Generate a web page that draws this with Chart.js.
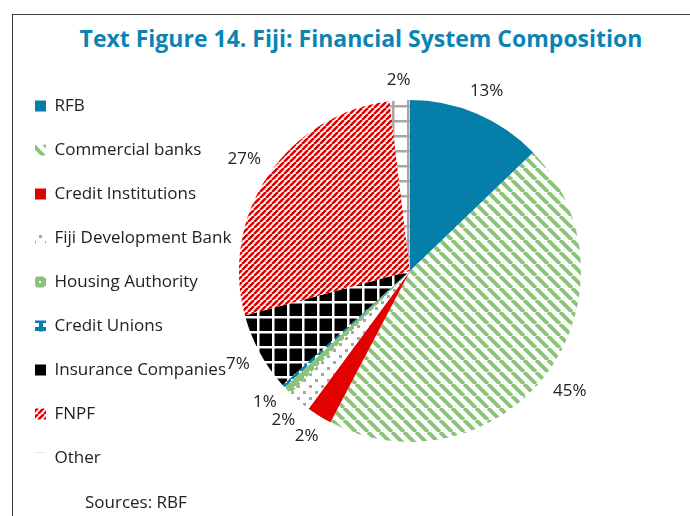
<!DOCTYPE html>
<html><head><meta charset="utf-8">
<script src="https://cdn.jsdelivr.net/npm/chart.js@4"></script>
<style>
html,body{margin:0;padding:0;width:690px;height:516px;overflow:hidden;background:#fff;}
#frame{position:absolute;left:12px;top:14px;width:800px;height:600px;border-left:1.5px solid #3c3c3c;border-top:1.5px solid #3c3c3c;}
#title{position:absolute;left:0;width:722px;top:23px;text-align:center;font:700 23px "Open Sans";color:#0a84b5;white-space:nowrap;line-height:30px;}
#src{position:absolute;left:85px;top:490px;font:17px "Open Sans";color:#222;line-height:24px;}
#c{position:absolute;left:8px;top:0;}
</style></head><body>
<div id="frame"></div>
<div id="title">Text Figure 14. Fiji: Financial System Composition</div>
<canvas id="c" width="682" height="516"></canvas>
<div id="src">Sources: RBF</div>
<script>
// ---- data (% of financial system assets) ----
const categories = ['RFB','Commercial banks','Credit Institutions','Fiji Development Bank','Housing Authority','Credit Unions','Insurance Companies','FNPF','Other'];
const shares = [12.8, 44.9, 2.4, 2.2, 0.8, 0.3, 7.4, 27.3, 1.9];

// ---- layout constants ----
const CANVAS_W = 682;
const PIE_CX = 402;          // desired pie centre x inside canvas
const PIE_R = 171;
const LEG_PAD = 27, BOX = 11, LEG_FONT = 17;
const LABEL_GAP = 10, LABEL_FONT = 17;

const cv = document.getElementById('c');
const ctx = cv.getContext('2d');

function tile(w, h, fn, ox, oy){
  const c = document.createElement('canvas'); c.width = w; c.height = h;
  const g = c.getContext('2d'); fn(g, w, h);
  const p = ctx.createPattern(c, 'repeat');
  if (ox || oy) p.setTransform(new DOMMatrix([1,0,0,1,ox||0,oy||0]));
  return p;
}
function stripes(color, s, lw, down){
  return tile(s, s, g => {
    g.fillStyle = '#fff'; g.fillRect(0,0,s,s);
    g.strokeStyle = color; g.lineWidth = lw; g.beginPath();
    for (let k=-1;k<=1;k++){
      if (down){ g.moveTo(k*s,0); g.lineTo(k*s+s,s); }
      else { g.moveTo(k*s,s); g.lineTo(k*s+s,0); }
    }
    g.stroke();
  });
}
function grid(bg, line, s, lw, ox, oy){
  return tile(s, s, g => {
    g.fillStyle = bg; g.fillRect(0,0,s,s);
    g.fillStyle = line; g.fillRect(0,0,s,lw); g.fillRect(0,0,lw,s);
  }, ox, oy);
}
function dots(bg, dot, s, d){
  return tile(s, s, g => {
    g.fillStyle = bg; g.fillRect(0,0,s,s);
    g.fillStyle = dot; g.fillRect(1,1,d,d); g.fillRect(s/2+1,s/2+1,d,d);
  });
}

const GREEN = '#8cc27a', TEAL = '#057fa9', RED = '#e20000', GREY = '#a6a6a6';
const fills = [
  TEAL,
  stripes(GREEN, 12, 4, true),
  RED,
  dots('#fff', GREY, 12, 3),
  dots(GREEN, '#fff', 10, 2),
  tile(8,8,g=>{g.fillStyle=TEAL;g.fillRect(0,0,8,8);g.fillStyle='#fff';g.fillRect(3,3,4,4);}),
  grid('#000', '#fff', 15, 2.5, 9, 1),
  stripes(RED, 6, 2.6, false),
  grid('#fff', GREY, 15, 2.5, 9, 0)
];

// legend width -> right padding so that the pie centre lands at PIE_CX
const m = document.createElement('canvas').getContext('2d');
m.font = 'normal ' + LEG_FONT + 'px "Open Sans"';
const maxText = Math.max(...categories.map(t => m.measureText(t).width));
const legendW = LEG_PAD + BOX + LEG_FONT/2 + maxText + 10;
const padRight = CANVAS_W - (2*PIE_CX - legendW);

const pctLabels = {
  id: 'pctLabels',
  afterDatasetsDraw(chart){
    const c = chart.ctx;
    const meta = chart.getDatasetMeta(0);
    const total = shares.reduce((a,b)=>a+b,0);
    c.save();
    c.font = LABEL_FONT + 'px "Open Sans"'; c.fillStyle = '#222';
    c.textAlign = 'center'; c.textBaseline = 'middle';
    let prev = null;
    meta.data.forEach((arc, i) => {
      const pct = Math.round(shares[i]/total*100);
      if (!pct) return;
      const txt = pct + '%';
      const p = arc.getProps(['x','y','startAngle','endAngle','outerRadius'], true);
      let mid = (p.startAngle + p.endAngle)/2;
      // keep neighbouring small labels at least ~7.5 degrees apart
      if (prev !== null && mid - prev < 0.13) mid = prev + 0.13;
      prev = mid;
      const hw = c.measureText(txt).width/2, hh = 9;
      const R = p.outerRadius + LABEL_GAP + Math.abs(hw*Math.cos(mid)) + Math.abs(hh*Math.sin(mid));
      c.fillText(txt, p.x + Math.cos(mid)*R, p.y + Math.sin(mid)*R);
    });
    c.restore();
  }
};

new Chart(ctx, {
  type: 'pie',
  data: {
    labels: categories,
    datasets: [{ data: shares, backgroundColor: fills, borderWidth: 0, radius: PIE_R }]
  },
  options: {
    responsive: false, animation: false, devicePixelRatio: 1,
    layout: { padding: { top: 46, bottom: 20, left: 0, right: padRight } },
    plugins: {
      tooltip: { enabled: false },
      legend: {
        position: 'left', align: 'start',
        title: { display: true, text: '', font: { size: 10, lineHeight: 1 }, padding: { top: 14.5, bottom: 0 } },
        labels: { boxWidth: BOX, boxHeight: BOX, padding: LEG_PAD, color: '#222',
                  font: { family: '"Open Sans"', size: LEG_FONT } }
      }
    }
  },
  plugins: [pctLabels]
});
</script>
</body></html>
